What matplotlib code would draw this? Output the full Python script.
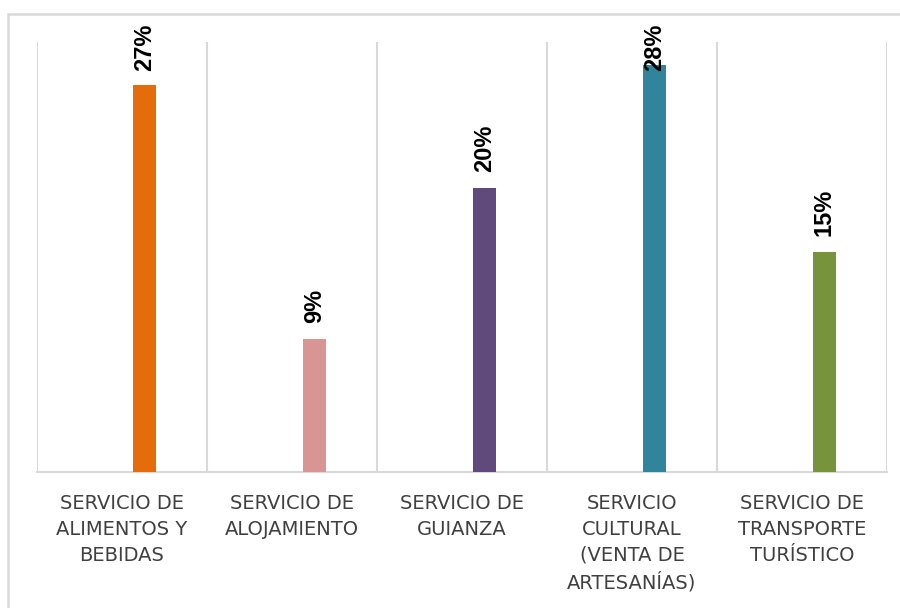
import matplotlib
matplotlib.use("Agg")
import matplotlib.pyplot as plt
from matplotlib.patches import Rectangle

categories = [
    "SERVICIO DE\nALIMENTOS Y\nBEBIDAS",
    "SERVICIO DE\nALOJAMIENTO",
    "SERVICIO DE\nGUIANZA",
    "SERVICIO\nCULTURAL\n(VENTA DE\nARTESANÍAS)",
    "SERVICIO DE\nTRANSPORTE\nTURÍSTICO",
]
values = [27.0, 9.3, 19.8, 28.4, 15.35]
labels = ["27%", "9%", "20%", "28%", "15%"]
colors = ["#E46C0A", "#D99594", "#604A7B", "#31849B", "#77933C"]

fig = plt.figure(figsize=(9.0, 6.08), dpi=100)
ax = fig.add_axes([37/900, 1-472/608, (887-37)/900, (472-42)/608])

# outer chart border (cropped on right/bottom)
fig.patches.append(Rectangle((8/900, -0.1), 1.2, 1-14/608+0.1,
                             transform=fig.transFigure, fill=False,
                             edgecolor="#d9d9d9", linewidth=1.8, zorder=0))

n = len(categories)
xs = [i + 0.132 for i in range(n)]
ax.bar(xs, values, width=0.137, color=colors, zorder=3)

ax.set_xlim(-0.5, n - 0.5)
ax.set_ylim(0, 30)

for b in [i - 0.5 for i in range(n + 1)]:
    ax.axvline(b, color="#d9d9d9", linewidth=1.5, zorder=1)

for x, v, t in zip(xs, values, labels):
    y = min(v + 1.1, 28.0)
    ax.text(x, y, t, rotation=90, ha="center", va="bottom",
            fontsize=17, fontweight="bold", family="Liberation Sans",
            color="#000000", zorder=4, clip_on=False)

for s in ["top", "left", "right"]:
    ax.spines[s].set_visible(False)
ax.spines["bottom"].set_color("#d9d9d9")
ax.spines["bottom"].set_linewidth(1.5)
ax.set_yticks([])
ax.set_xticks(range(n))
ax.set_xticklabels(categories, fontsize=14, family="DejaVu Sans",
                   color="#404040", linespacing=1.45)
ax.tick_params(axis="x", length=0, pad=16)

fig.savefig("out.png", dpi=100)
